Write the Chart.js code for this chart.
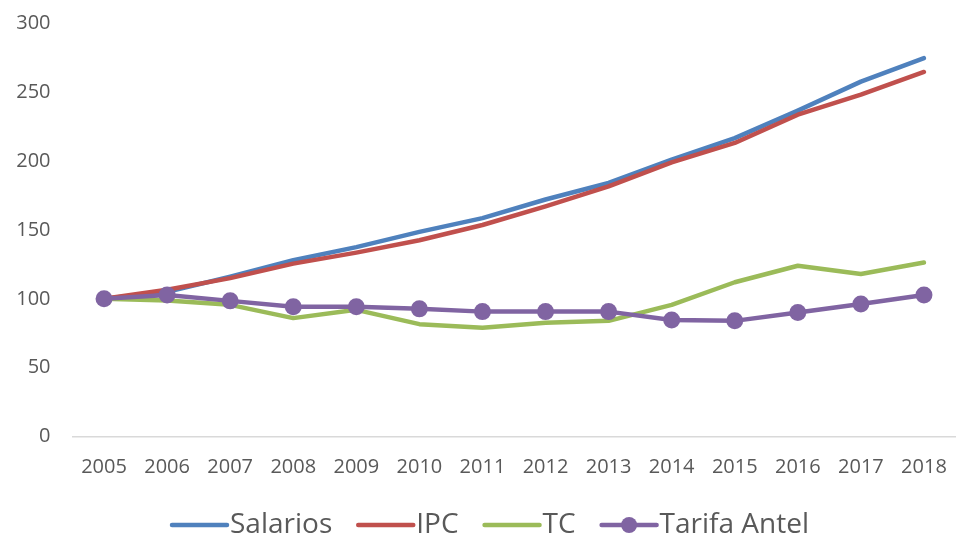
<!DOCTYPE html>
<html>
<head>
<meta charset="utf-8">
<script src="https://cdn.jsdelivr.net/npm/chart.js@4.4.1/dist/chart.umd.min.js"></script>
<style>
html,body{margin:0;padding:0;background:#fff;}
#wrap{width:956px;height:538px;position:relative;}
</style>
</head>
<body>
<div id="wrap"><canvas id="c" width="956" height="538"></canvas></div>
<script>
const years = ['2005','2006','2007','2008','2009','2010','2011','2012','2013','2014','2015','2016','2017','2018'];
const salarios = [100, 105, 116, 128, 137.5, 148.5, 158.5, 172, 184, 201, 216.5, 236.5, 257.5, 274.5];
const ipc      = [100, 106.5, 115, 125.5, 133.5, 142.5, 153.5, 167, 181.5, 199, 213, 233.5, 248, 264.5];
const tc       = [100, 98.7, 95.6, 86, 92, 81.6, 79, 82.7, 84, 95.6, 112, 124, 118, 126.3];
const tarifa   = [100, 102.8, 98.5, 94.3, 94.3, 92.7, 90.7, 90.7, 90.7, 84.7, 84, 90, 96.3, 102.8];
const yTicks   = [0, 50, 100, 150, 200, 250, 300];

const FONT = "'Open Sans', 'Liberation Sans', sans-serif";
const TXT = '#595959';

const legendPlugin = {
  id: 'lineLegend',
  afterDraw(chart) {
    const ctx = chart.ctx;
    const y = 525;
    let x = 172;
    const sw = 55, gapText = 3, gapItem = 26;
    ctx.save();
    ctx.font = '28px ' + FONT;
    ctx.textBaseline = 'middle';
    ctx.textAlign = 'left';
    chart.data.datasets.forEach(ds => {
      ctx.strokeStyle = ds.borderColor;
      ctx.lineWidth = 4.5;
      ctx.lineCap = 'round';
      ctx.beginPath();
      ctx.moveTo(x, y);
      ctx.lineTo(x + sw, y);
      ctx.stroke();
      if (ds.pointRadius > 0) {
        ctx.fillStyle = ds.pointBackgroundColor;
        ctx.beginPath();
        ctx.arc(x + sw / 2, y, 8, 0, Math.PI * 2);
        ctx.fill();
      }
      x += sw + gapText;
      ctx.fillStyle = TXT;
      ctx.fillText(ds.label, x, y);
      x += ctx.measureText(ds.label).width + gapItem;
    });
    ctx.restore();
  }
};

function lineDs(label, data, color, order, marker) {
  return {
    label, data,
    borderColor: color,
    backgroundColor: color,
    borderWidth: 4.5,
    tension: 0,
    order,
    clip: false,
    pointRadius: marker ? 8.5 : 0,
    pointHoverRadius: marker ? 8.5 : 0,
    pointBackgroundColor: color,
    pointBorderColor: color,
    pointBorderWidth: 0,
    borderCapStyle: 'round',
    borderJoinStyle: 'round'
  };
}

new Chart(document.getElementById('c'), {
  type: 'line',
  data: {
    labels: years,
    datasets: [
      lineDs('Salarios', salarios, '#4F81BD', 4, false),
      lineDs('IPC', ipc, '#C0504D', 3, false),
      lineDs('TC', tc, '#9BBB59', 2, false),
      lineDs('Tarifa Antel', tarifa, '#8064A2', 1, true)
    ]
  },
  options: {
    responsive: false,
    animation: false,
    devicePixelRatio: 1,
    layout: { autoPadding: false, padding: { top: 23, left: 0, right: 0.5, bottom: 0 } },
    plugins: { legend: { display: false }, tooltip: { enabled: false } },
    scales: {
      x: {
        offset: true,
        grid: { display: false, drawTicks: false },
        border: { display: true, color: '#D9D9D9', width: 1.5 },
        ticks: { color: TXT, font: { family: FONT, size: 20 }, padding: 19, maxRotation: 0, autoSkip: false },
        afterFit(s) { s.height = 101.3; s.paddingLeft = 0; s.paddingRight = 0; }
      },
      y: {
        min: 0, max: 300,
        afterBuildTicks(s) { s.ticks = yTicks.map(v => ({ value: v })); },
        grid: { display: false, drawTicks: false },
        border: { display: false },
        ticks: { color: TXT, font: { family: FONT, size: 20 }, padding: 22 },
        afterFit(s) { s.width = 72.5; s.paddingTop = 0; s.paddingBottom = 0; }
      }
    }
  },
  plugins: [legendPlugin]
});
</script>
</body>
</html>
